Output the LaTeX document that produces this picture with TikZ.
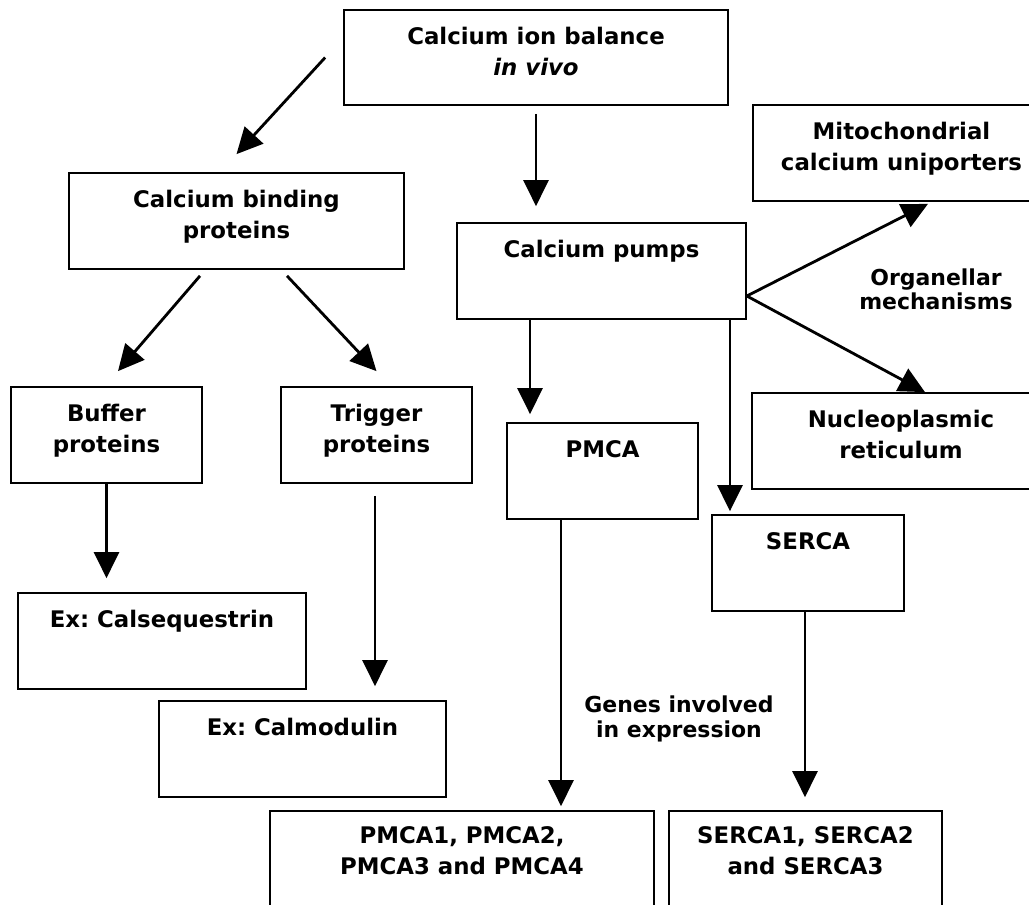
\documentclass[tikz,border=0pt]{standalone}
\usepackage{fontspec}
\setmainfont{DejaVu Sans}
\usetikzlibrary{arrows.meta,positioning}
\frenchspacing

\tikzset{
	box/.style={draw, line width=1pt, rectangle, inner sep=0pt, minimum height=1.92cm},
	txt/.style={font=\bfseries\fontsize{13}{17.5}\selectfont, align=center, inner sep=0pt},
	note/.style={font=\bfseries\fontsize{12.5}{13.8}\selectfont, align=center, inner sep=0pt},
	arr/.style={line width=1.6pt, -{Triangle[width=0.5cm,length=0.52cm]}},
}

\begin{document}
\begin{tikzpicture}[x=0.02cm,y=-0.02cm]
	\useasboundingbox (0,0) rectangle (1029,904);
	\clip (0,0) rectangle (1029,904); % boxes run off the right and bottom edges

	% boxes
	\node[box, minimum width=7.68cm, minimum height=1.9cm] (balance) at (536,57.5) {};
	\node[box, minimum width=6.7cm]  (binding)  at (236.5,221) {};
	\node[box, minimum width=5.78cm] (pumps)    at (601.5,271) {};
	\node[box, minimum width=5.94cm] (mito)     at (901.5,153) {};
	\node[box, minimum width=5.96cm] (nucleo)   at (901,441) {};
	\node[box, minimum width=3.82cm] (buffer)   at (106.5,435) {};
	\node[box, minimum width=3.82cm] (trigger)  at (376.5,435) {};
	\node[box, minimum width=3.82cm] (pmca)     at (602.5,471) {};
	\node[box, minimum width=3.84cm] (serca)    at (808,563) {};
	\node[box, minimum width=5.76cm] (calseq)   at (162,641) {};
	\node[box, minimum width=5.74cm] (calmod)   at (302.5,749) {};
	\node[box, minimum width=7.68cm] (pmcagenes)  at (462,859) {};
	\node[box, minimum width=5.46cm] (sercagenes) at (805.5,859) {};

	% texts, near the top of each box
	\node[txt, below=0.36cm of balance.north] (balance-t) {Calcium ion balance\\\textit{in vivo}};
	\node[txt, below=0.36cm of binding.north] (binding-t) {Calcium binding\\proteins};
	\node[txt, below=0.36cm of pumps.north] (pumps-t) {Calcium pumps};
	\node[txt, below=0.36cm of mito.north] (mito-t) {Mitochondrial\\calcium uniporters};
	\node[txt, below=0.36cm of nucleo.north] (nucleo-t) {Nucleoplasmic\\reticulum};
	\node[txt, below=0.36cm of buffer.north] (buffer-t) {Buffer\\proteins};
	\node[txt, below=0.36cm of trigger.north] (trigger-t) {Trigger\\proteins};
	\node[txt, below=0.36cm of pmca.north] (pmca-t) {PMCA};
	\node[txt, below=0.36cm of serca.north] (serca-t) {SERCA};
	\node[txt, below=0.36cm of calseq.north] (calseq-t) {Ex: Calsequestrin};
	\node[txt, below=0.36cm of calmod.north] (calmod-t) {Ex: Calmodulin};
	\node[txt, below=0.32cm of pmcagenes.north] (pmcagenes-t) {PMCA1, PMCA2,\\PMCA3 and PMCA4};
	\node[txt, below=0.32cm of sercagenes.north] (sercagenes-t) {SERCA1, SERCA2\\and SERCA3};

	% labels on the arrows
	\node[note] (organellar) at (936,289) {Organellar\\mechanisms};
	\node[note] (genes) at (679,719) {Genes involved\\in expression};

	% arrows
	\coordinate (fork) at ([yshift=-0.5cm]pumps.east);
	\draw[arr] ([xshift=-0.36cm]balance.west) -- ([yshift=0.36cm]binding.north);
	\draw[arr, shorten <=0.16cm, shorten >=0.32cm] (balance.south) -- (balance.south |- pumps.north);
	\draw[arr] (fork) -- ([xshift=0.53cm,yshift=-0.04cm]mito.south);
	\draw[arr] (fork) -- ([xshift=0.48cm]nucleo.north);
	\draw[arr] ([xshift=-0.73cm,yshift=-0.12cm]binding.south) -- ([xshift=0.23cm,yshift=0.3cm]buffer.north);
	\draw[arr] ([xshift=1.01cm,yshift=-0.12cm]binding.south) -- ([yshift=0.3cm]trigger.north);
	\draw[arr, shorten >=0.16cm] ([xshift=-1.43cm]pumps.south) -- ([xshift=-1.43cm]pumps.south |- pmca.north);
	\draw[arr, shorten >=0.06cm] ([xshift=2.57cm]pumps.south) -- ([xshift=2.57cm]pumps.south |- serca.north);
	\draw[arr, shorten >=0.28cm] (buffer.south) -- (buffer.south |- calseq.north);
	\draw[arr, shorten <=0.24cm, shorten >=0.28cm] ([xshift=-0.03cm]trigger.south) -- ([xshift=-0.03cm]trigger.south |- calmod.north);
	\draw[arr, shorten >=0.08cm] ([xshift=-0.83cm]pmca.south) -- ([xshift=-0.83cm]pmca.south |- pmcagenes.north);
	\draw[arr, shorten >=0.26cm] ([xshift=-0.06cm]serca.south) -- ([xshift=-0.06cm]serca.south |- sercagenes.north);
\end{tikzpicture}
\end{document}
